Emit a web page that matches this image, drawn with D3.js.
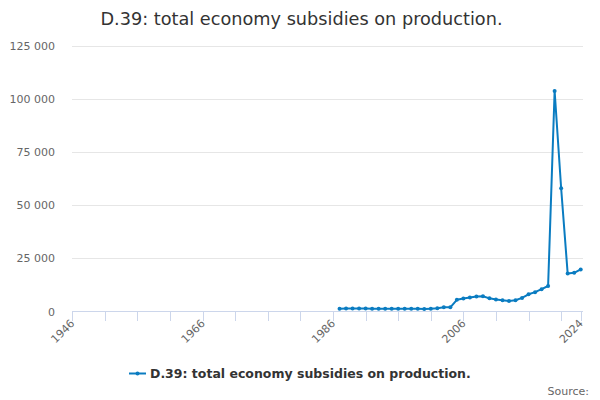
<!DOCTYPE html>
<html><head><meta charset="utf-8">
<script src="https://cdn.jsdelivr.net/npm/d3@7"></script>
<style>
body{margin:0;background:#fff;}
svg{display:block;font-family:"DejaVu Sans",sans-serif;}
</style></head>
<body><svg id="c" width="600" height="400"></svg>
<script>
const years = [1987,1988,1989,1990,1991,1992,1993,1994,1995,1996,1997,1998,1999,2000,2001,2002,2003,2004,2005,2006,2007,2008,2009,2010,2011,2012,2013,2014,2015,2016,2017,2018,2019,2020,2021,2022,2023,2024];
const values = [1350,1400,1450,1450,1400,1350,1300,1300,1300,1300,1300,1300,1250,1150,1350,1500,1950,1950,5500,6100,6600,7100,7200,6200,5700,5300,5000,5300,6400,8100,9100,10500,12000,103800,58000,17900,18200,19800];
const xTicks = [1946,1951,1956,1961,1966,1971,1976,1981,1986,1991,1996,2001,2006,2011,2016,2021,2024];
const xLabels = [1946,1966,1986,2006,2024];
const yTicks = [0,25000,50000,75000,100000,125000];
const title = "D.39: total economy subsidies on production.";
const seriesName = "D.39: total economy subsidies on production.";

const svg = d3.select("#c");
const x = d3.scaleLinear().domain([1946,2024]).range([72.3,580.7]);
const y = d3.scaleLinear().domain([0,125000]).range([311.5,46]);
const color = "#0a7cc1";

svg.append("text").attr("x",301.5).attr("y",25).attr("text-anchor","middle")
  .attr("font-size",17.7).attr("fill","#333").text(title);

// grid
const fmt = v => v===0 ? "0" : d3.format(",")(v).replace(/,/g," ");
svg.append("g").selectAll("line").data(yTicks.filter(d=>d>0)).join("line")
  .attr("x1",72).attr("x2",583).attr("y1",d=>Math.round(y(d))+0.5).attr("y2",d=>Math.round(y(d))+0.5)
  .attr("stroke","#e6e6e6").attr("stroke-width",1);
svg.append("g").selectAll("text").data(yTicks).join("text")
  .attr("x",55).attr("y",d=>y(d)+4).attr("text-anchor","end")
  .attr("font-size",11).attr("fill","#666").text(fmt);

// x axis
svg.append("line").attr("x1",72).attr("x2",583).attr("y1",311.5).attr("y2",311.5)
  .attr("stroke","#ccd6eb");
svg.append("g").selectAll("line").data(xTicks).join("line")
  .attr("x1",d=>Math.round(x(d))+0.5).attr("x2",d=>Math.round(x(d))+0.5)
  .attr("y1",311.5).attr("y2",321).attr("stroke","#ccd6eb");
svg.append("g").selectAll("text").data(xLabels).join("text")
  .attr("transform",d=>`translate(${x(d)+3},${324}) rotate(-45)`)
  .attr("text-anchor","end").attr("font-size",11).attr("fill","#666").text(d=>d);

// line
const data = years.map((yr,i)=>({yr,v:values[i]}));
svg.append("path").datum(data)
  .attr("d",d3.line().x(d=>x(d.yr)).y(d=>y(d.v)))
  .attr("fill","none").attr("stroke",color).attr("stroke-width",2)
  .attr("stroke-linejoin","round").attr("stroke-linecap","round");
svg.append("g").selectAll("circle").data(data).join("circle")
  .attr("cx",d=>x(d.yr)).attr("cy",d=>y(d.v)).attr("r",2).attr("fill",color);

// legend
const lg = svg.append("g");
lg.append("line").attr("x1",129).attr("x2",146).attr("y1",373.5).attr("y2",373.5)
  .attr("stroke",color).attr("stroke-width",2);
lg.append("circle").attr("cx",137.5).attr("cy",373.5).attr("r",2).attr("fill",color);
lg.append("text").attr("x",150).attr("y",378).attr("font-size",12.5).attr("font-weight","bold")
  .attr("fill","#333").text(seriesName);

svg.append("text").attr("x",589).attr("y",395).attr("text-anchor","end")
  .attr("font-size",11).attr("fill","#666").text("Source:");
</script></body></html>
